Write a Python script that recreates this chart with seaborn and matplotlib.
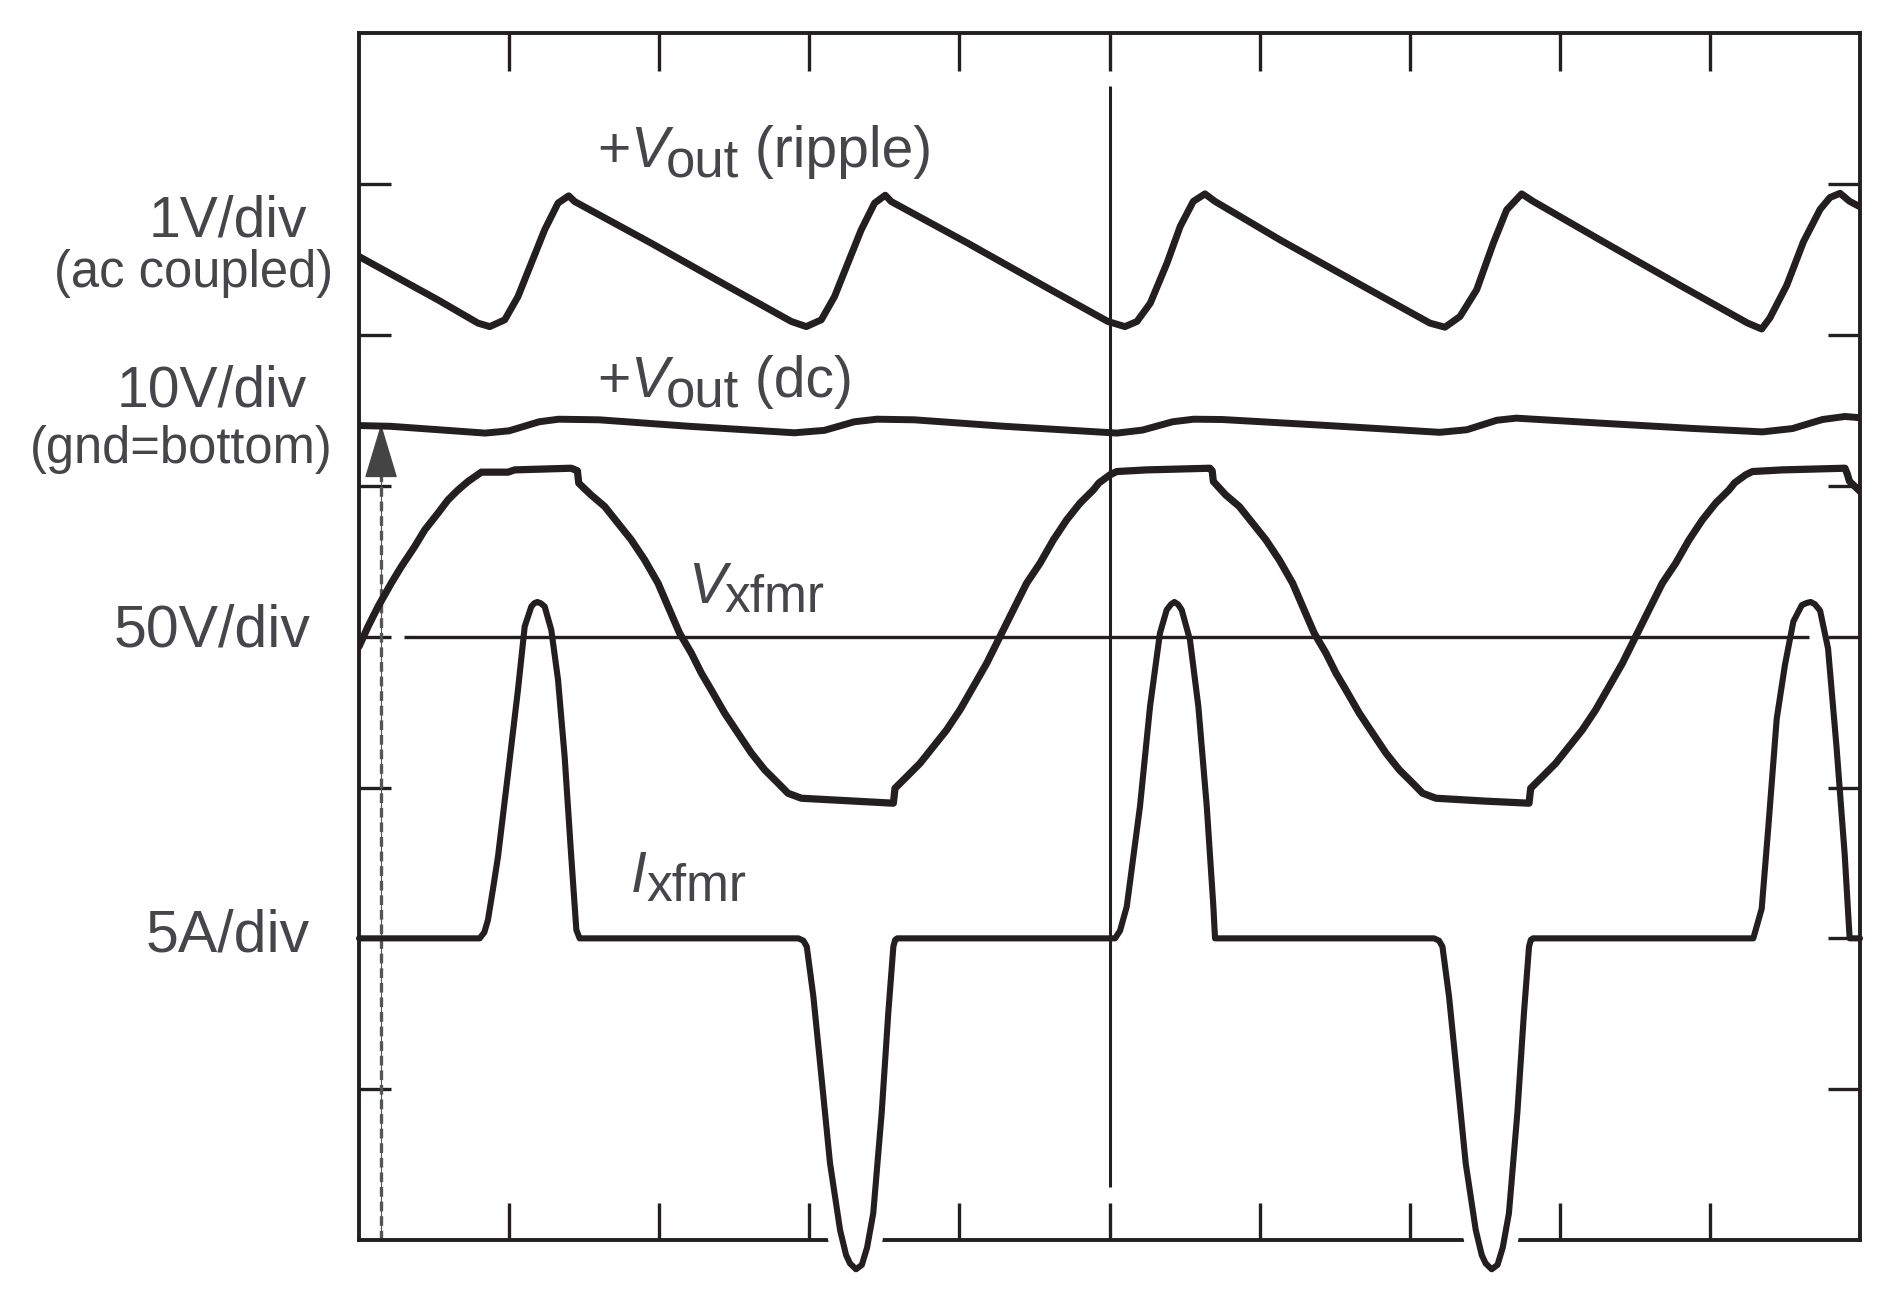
"""
Scope capture: output ripple, dc output, transformer voltage and current.
"""

import numpy as np
import matplotlib
matplotlib.use('Agg')
import matplotlib.pyplot as plt
import seaborn as sns

# ─────────────────────────────────────────────
# DATA  (time and amplitude in screen divisions)
# ─────────────────────────────────────────────

ripple_t = [0.000, 0.526, 0.793, 0.871, 0.971, 1.059, 1.148, 1.237, 1.326, 1.397, 1.437, 1.947, 2.480, 2.880,
            2.980, 3.080, 3.168, 3.257, 3.346, 3.435, 3.506, 3.546, 4.056, 4.589, 4.989,
            5.103, 5.183, 5.272, 5.383, 5.471, 5.558, 5.636, 5.703, 6.136, 6.713, 7.135,
            7.235, 7.335, 7.446, 7.557, 7.646, 7.746, 7.823, 8.268, 8.800, 9.250,
            9.345, 9.400, 9.512, 9.623, 9.734, 9.800, 9.867, 9.930, 10.000]
ripple_v = [6.521, 6.233, 6.079, 6.056, 6.101, 6.255, 6.477, 6.698, 6.875, 6.923, 6.885, 6.609, 6.311, 6.090,
            6.056, 6.101, 6.255, 6.477, 6.698, 6.875, 6.927, 6.885, 6.609, 6.311, 6.090,
            6.056, 6.090, 6.212, 6.477, 6.720, 6.886, 6.936, 6.886, 6.631, 6.311, 6.079,
            6.052, 6.123, 6.300, 6.609, 6.830, 6.936, 6.886, 6.631, 6.330, 6.080,
            6.040, 6.114, 6.330, 6.618, 6.833, 6.912, 6.940, 6.887, 6.850]

dc_t = [0.00, 0.21, 0.84, 1.00, 1.20, 1.33, 1.60, 2.20, 2.90, 3.10, 3.30, 3.45, 3.70, 4.30,
        5.05, 5.22, 5.42, 5.56, 5.75, 6.49, 7.20, 7.38, 7.58, 7.71, 8.27, 8.90,
        9.35, 9.55, 9.75, 9.90, 10.00]
dc_v = [5.400, 5.395, 5.350, 5.365, 5.425, 5.442, 5.438, 5.395, 5.352, 5.368, 5.425, 5.442, 5.438, 5.395,
        5.350, 5.370, 5.425, 5.442, 5.440, 5.398, 5.355, 5.372, 5.435, 5.449, 5.416, 5.380,
        5.358, 5.380, 5.440, 5.460, 5.452]

vx_t = [0.000, 0.060, 0.127, 0.215, 0.282, 0.371, 0.438, 0.526, 0.593, 0.660, 0.726, 0.815,
        0.993, 1.037, 1.414, 1.455, 1.464,
        1.546, 1.637, 1.725, 1.814, 1.903, 1.992, 2.059, 2.136, 2.214, 2.281, 2.347, 2.436,
        2.525, 2.614, 2.703, 2.792, 2.858, 2.947, 3.300, 3.560, 3.571,
        3.649, 3.738, 3.826, 3.915, 4.004, 4.093, 4.182, 4.270, 4.359, 4.448, 4.537, 4.626,
        4.715, 4.803, 4.892, 4.930, 5.003, 5.048, 5.248, 5.669, 5.684, 5.692,
        5.774, 5.865, 5.953, 6.042, 6.131, 6.220, 6.287, 6.364, 6.442, 6.509, 6.575, 6.664,
        6.753, 6.842, 6.931, 7.020, 7.086, 7.175, 7.500, 7.795, 7.806,
        7.884, 7.973, 8.061, 8.150, 8.239, 8.328, 8.417, 8.505, 8.594, 8.683, 8.772, 8.861,
        8.950, 9.038, 9.127, 9.165, 9.238, 9.283, 9.483, 9.900, 9.915, 9.930, 10.000]
vx_v = [3.935, 4.067, 4.200, 4.355, 4.465, 4.598, 4.708, 4.819, 4.907, 4.973, 5.029, 5.091,
        5.091, 5.106, 5.117, 5.100, 5.018,
        4.940, 4.863, 4.753, 4.642, 4.509, 4.355, 4.200, 4.023, 3.891, 3.758, 3.647, 3.493,
        3.360, 3.228, 3.117, 3.029, 2.962, 2.929, 2.910, 2.896, 2.995,
        3.072, 3.161, 3.271, 3.382, 3.515, 3.669, 3.824, 4.000, 4.178, 4.355, 4.487, 4.642,
        4.775, 4.885, 4.973, 5.020, 5.073, 5.095, 5.106, 5.117, 5.100, 5.029,
        4.940, 4.863, 4.753, 4.642, 4.509, 4.355, 4.200, 4.023, 3.891, 3.758, 3.647, 3.493,
        3.360, 3.228, 3.117, 3.029, 2.962, 2.929, 2.910, 2.896, 2.995,
        3.072, 3.161, 3.271, 3.382, 3.515, 3.669, 3.824, 4.000, 4.178, 4.355, 4.487, 4.642,
        4.775, 4.885, 4.973, 5.020, 5.073, 5.095, 5.106, 5.117, 5.080, 5.030, 4.964]

ix_t = [0.000, 0.804, 0.835, 0.859, 0.893, 0.926, 0.993, 1.059, 1.104, 1.148, 1.168, 1.188, 1.210, 1.237,
        1.281, 1.326, 1.370, 1.414, 1.448, 1.470,
        2.927, 2.960, 2.983, 3.027, 3.083, 3.138, 3.205, 3.245, 3.271, 3.311, 3.350, 3.385, 3.426, 3.482,
        3.526, 3.560, 3.572, 3.586,
        5.037, 5.070, 5.115, 5.203, 5.270, 5.336, 5.381, 5.410, 5.432, 5.456, 5.481, 5.536, 5.592, 5.648,
        5.692, 5.703,
        7.162, 7.195, 7.218, 7.262, 7.318, 7.373, 7.440, 7.480, 7.506, 7.546, 7.585, 7.620, 7.661, 7.717,
        7.761, 7.795, 7.807, 7.821,
        9.289, 9.345, 9.389, 9.445, 9.500, 9.556, 9.612, 9.645, 9.672, 9.700, 9.734, 9.787, 9.843, 9.898,
        9.931, 10.000]
ix_v = [2.000, 2.000, 2.040, 2.122, 2.330, 2.542, 3.095, 3.647, 4.068, 4.200, 4.222, 4.230, 4.222, 4.200,
        4.045, 3.714, 3.205, 2.542, 2.056, 2.000,
        2.000, 1.985, 1.946, 1.615, 1.061, 0.509, 0.066, -0.100, -0.155, -0.194, -0.165, -0.050, 0.177, 0.840,
        1.503, 1.946, 1.990, 2.000,
        2.000, 2.050, 2.211, 2.874, 3.537, 4.023, 4.178, 4.215, 4.230, 4.215, 4.178, 3.979, 3.537, 2.874,
        2.211, 2.000,
        2.000, 1.985, 1.946, 1.615, 1.061, 0.509, 0.066, -0.100, -0.155, -0.194, -0.165, -0.050, 0.177, 0.840,
        1.503, 1.946, 1.990, 2.000,
        2.000, 2.196, 2.735, 3.455, 3.813, 4.101, 4.209, 4.224, 4.230, 4.215, 4.173, 3.922, 3.276, 2.556,
        2.000, 2.000]

# channel scale labels: (text, x, baseline y, font size)
scale_labels = [
    ('1V/div', -0.346, 6.651, 41),
    ('(ac coupled)', -0.173, 6.320, 36.5),
    ('10V/div', -0.346, 5.524, 41),
    ('(gnd=bottom)', -0.173, 5.153, 36.5),
    ('50V/div', -0.326, 3.932, 42.5),
    ('5A/div', -0.326, 1.910, 42.5),
]

# ─────────────────────────────────────────────
# STYLE
# ─────────────────────────────────────────────

INK = '#231f20'
TEXT = '#46464a'
GND_X = 0.147

sns.set_theme(style='white')
plt.rcParams['font.family'] = ['Liberation Sans', 'DejaVu Sans']
plt.rcParams['lines.scale_dashes'] = False


def trace_label(ax, x, y, parts):
    """Chain text pieces left to right; parts = (text, style, size, dx, dy)."""
    s, style, size, dx, dy = parts[0]
    prev = ax.text(x, y, s, fontsize=size, style=style, color=TEXT,
                   va='baseline', ha='left')
    prev_dy = dy
    for s, style, size, dx, dy in parts[1:]:
        prev = ax.annotate(s, xy=(1, 0), xycoords=prev, xytext=(dx, dy - prev_dy),
                           textcoords='offset points', fontsize=size, style=style,
                           color=TEXT, va='bottom', ha='left')
        prev_dy = dy


def trace(ax, t, v, width, **kw):
    sns.lineplot(x=t, y=v, ax=ax, color=INK, sort=False, estimator=None,
                 solid_joinstyle='round', solid_capstyle='round', **kw)
    ax.lines[-1].set_linewidth(width)


fig = plt.figure(figsize=(18.9, 12.94), dpi=100)
ax = fig.add_axes([0.18995, 0.04173, 0.79418, 0.93246])
ax.set_xlim(0, 10)
ax.set_ylim(0, 8)

# graticule: centre cross and frame ticks
ax.vlines(5, 0.35, 7.65, color=INK, lw=2.2, zorder=1.5)
ax.hlines(4, 0.30, 9.66, color=INK, lw=2.4, zorder=1.5)
ax.set_xticks(range(1, 10))
ax.set_yticks(range(1, 8))
ax.tick_params(axis='x', direction='in', length=27, width=2.4, color=INK,
               top=True, bottom=True, labelbottom=False)
ax.tick_params(axis='y', direction='in', length=23, width=2.4, color=INK,
               left=True, right=True, labelleft=False)
for sp in ax.spines.values():
    sp.set_visible(True)
    sp.set_color(INK)
    sp.set_linewidth(2.8)
ax.set_xlabel('')
ax.set_ylabel('')

# ground reference arrow for the dc channel
ax.plot([GND_X, GND_X], [0, 5.12], color='#555555', lw=0.8, zorder=1.6)
ax.plot([GND_X, GND_X], [0, 5.12], color='#555555', lw=2.4, ls=(0, (7, 3.5)), zorder=1.6)
ax.annotate('', xy=(GND_X, 5.41), xytext=(GND_X, 5.05),
            arrowprops=dict(arrowstyle='-|>,head_length=1.0,head_width=0.3',
                            mutation_scale=36, color='#444444', lw=1.0,
                            shrinkA=0, shrinkB=0))

# traces
trace(ax, ripple_t, ripple_v, 5.0, zorder=4)
trace(ax, dc_t, dc_v, 5.0, zorder=4)
trace(ax, vx_t, vx_v, 5.2, zorder=4)

# white halo where the current dips through the bottom of the frame
ix_low = np.where(np.array(ix_v) < 0.2, ix_v, np.nan)
ax.plot(ix_t, ix_low, color='white', lw=20, zorder=3, clip_on=False,
        solid_capstyle='round')
trace(ax, ix_t, ix_v, 4.4, zorder=5, clip_on=False)

# labels
for text, x, y, size in scale_labels:
    ax.text(x, y, text, fontsize=size, color=TEXT, ha='right', va='baseline',
            clip_on=False)

trace_label(ax, 1.586, 7.115, [('+', 'normal', 41, 0, 0), ('V', 'italic', 41, 0, 0),
                               ('out', 'normal', 38, -2, -6), (' (ripple)', 'normal', 41, 0, 0)])
trace_label(ax, 1.586, 5.590, [('+', 'normal', 41, 0, 0), ('V', 'italic', 41, 0, 0),
                               ('out', 'normal', 38, -2, -6), (' (dc)', 'normal', 41, 0, 0)])
trace_label(ax, 2.19, 4.224, [('V', 'italic', 41, 0, 0), ('xfmr', 'normal', 37, -1, -6)])
trace_label(ax, 1.81, 2.308, [('I', 'italic', 41, 0, 0), ('xfmr', 'normal', 37, 0, -6)])

plt.savefig('out.png', dpi=100, facecolor='white')
